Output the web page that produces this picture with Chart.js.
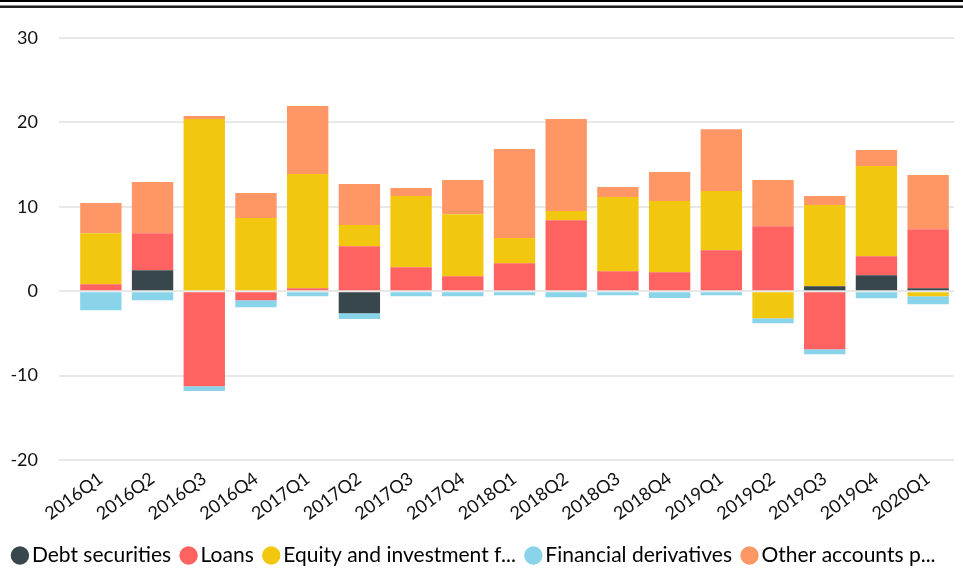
<!DOCTYPE html>
<html>
<head>
<meta charset="utf-8">
<script src="https://cdn.jsdelivr.net/npm/chart.js@4.4.0/dist/chart.umd.min.js"></script>
<style>
  html, body { margin: 0; padding: 0; background: #fff; }
  #wrap { position: relative; width: 963px; height: 569px; overflow: hidden; }
  #c { position: absolute; left: 0; top: 0; }
  .l1 { position: absolute; left: 0; top: 0; width: 963px; height: 2px; background: #000; }
  .l2 { position: absolute; left: 0; top: 5px; width: 963px; height: 1px; background: #888; }
  .l3 { position: absolute; left: 0; top: 6px; width: 963px; height: 2px; background: #222; }
</style>
</head>
<body>
<div id="wrap">
  <canvas id="c" width="963" height="569"></canvas>
  <div class="l1"></div><div class="l2"></div><div class="l3"></div>
</div>
<script>
const categories = ["2016Q1","2016Q2","2016Q3","2016Q4","2017Q1","2017Q2","2017Q3","2017Q4","2018Q1","2018Q2","2018Q3","2018Q4","2019Q1","2019Q2","2019Q3","2019Q4","2020Q1"];
const seriesNames = ["Debt securities","Loans","Equity and investment fund shares","Financial derivatives","Other accounts payable/receivable"];
const legendLabels = ["Debt securities","Loans","Equity and investment f...","Financial derivatives","Other accounts p..."];
const debtSecurities = [0, 2.49, 0, 0, 0, -2.6, 0, 0, 0, 0, 0, 0, 0, -0.12, 0.59, 1.9, 0.36];
const loans = [0.83, 4.39, -11.27, -1.07, 0.36, 5.34, 2.85, 1.78, 3.32, 8.42, 2.37, 2.25, 4.86, 7.71, -6.88, 2.25, 6.99];
const equity = [6.05, -0.12, 20.4, 8.66, 13.52, 2.49, 8.42, 7.35, 2.97, 1.07, 8.78, 8.43, 7.0, -3.08, 9.61, 10.68, -0.59];
const derivatives = [-2.25, -0.95, -0.55, -0.83, -0.59, -0.7, -0.59, -0.59, -0.47, -0.71, -0.47, -0.8, -0.47, -0.6, -0.59, -0.83, -0.95];
const otherAccounts = [3.56, 6.05, 0.36, 2.97, 8.07, 4.86, 0.95, 4.04, 10.55, 10.91, 1.19, 3.44, 7.34, 5.46, 1.07, 1.9, 6.41];
const yTicks = [-20, -10, 0, 10, 20, 30];

const colors = ["#37474B", "#FF6361", "#F1C80F", "#89D4EB", "#FF9666"];
const allSeries = [debtSecurities, loans, equity, derivatives, otherAccounts];

const FONT = "Lato";
const data = {
  labels: categories,
  datasets: allSeries.map((vals, i) => ({
    label: seriesNames[i],
    data: vals,
    backgroundColor: colors[i],
    borderWidth: 0,
    barPercentage: 0.8,
    categoryPercentage: 1.0,
    stack: "s"
  }))
};

const shiftLegend = {
  id: "shiftLegend",
  afterLayout(chart) {
    const lg = chart.legend;
    if (lg) { lg.top += 7; lg.bottom += 7; }
  }
};

new Chart(document.getElementById("c"), {
  type: "bar",
  data,
  plugins: [shiftLegend],
  options: {
    responsive: false,
    animation: false,
    maintainAspectRatio: false,
    layout: { padding: { top: 38, right: 9, left: 0, bottom: 0 } },
    plugins: {
      tooltip: { enabled: false },
      legend: {
        position: "bottom",
        labels: {
          usePointStyle: true,
          pointStyle: "circle",
          boxWidth: 3,
          boxHeight: 13,
          padding: 16,
          color: "#111",
          font: { family: FONT, size: 21 },
          generateLabels(chart) {
            return chart.data.datasets.map((ds, i) => ({
              text: legendLabels[i],
              fillStyle: ds.backgroundColor,
              strokeStyle: ds.backgroundColor,
              lineWidth: 0,
              pointStyle: "circle",
              hidden: false,
              datasetIndex: i
            }));
          }
        }
      }
    },
    scales: {
      x: {
        stacked: true,
        grid: { display: false, drawTicks: false },
        border: { display: false },
        ticks: {
          color: "#111",
          font: { family: FONT, size: 18 },
          minRotation: 36,
          maxRotation: 36,
          padding: 8,
          autoSkip: false
        },
        afterFit(scale) { scale.height = 62; }
      },
      y: {
        stacked: true,
        min: -20,
        max: 30,
        afterBuildTicks(scale) { scale.ticks = yTicks.map(v => ({ value: v })); },
        grid: { color: "#E8E8E8", lineWidth: 2, tickLength: 16, tickColor: "#E8E8E8" },
        border: { display: false },
        ticks: {
          color: "#111",
          font: { family: FONT, size: 18 },
          padding: 21
        },
        afterFit(scale) { scale.width = 75; }
      }
    }
  }
});
</script>
</body>
</html>
